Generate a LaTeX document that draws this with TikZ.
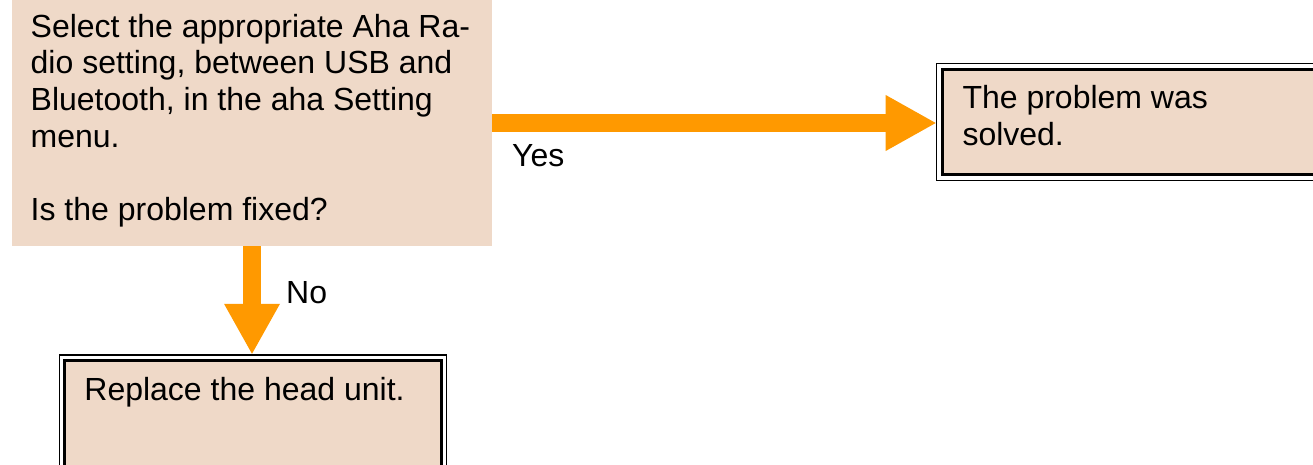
\documentclass[tikz,border=0pt]{standalone}
\usepackage{fontspec}
\setmainfont{Liberation Sans}
\usetikzlibrary{arrows.meta}
\definecolor{beige}{RGB}{239,217,200}
\definecolor{flow}{RGB}{255,153,0}
\begin{document}
\begin{tikzpicture}[x=1pt,y=-1pt,
  txt/.style={inner sep=0pt, anchor=base west, font=\fontsize{32}{36.6}\selectfont},
  plainbox/.style={fill=beige, inner sep=0pt, outer sep=0pt, anchor=north west},
  outerbox/.style={draw=black, line width=1.4pt, fill=white, inner sep=0pt, outer sep=0pt, anchor=north west},
  innerline/.style={draw=black, line width=3pt, fill=beige},
  flowarrow/.style={draw=flow, line width=17.5pt, -{Triangle[length=51pt,width=52pt]}}]
\useasboundingbox (0,0) rectangle (1313,465);
\clip (0,0) rectangle (1313,465);
% boxes
\node[plainbox, minimum width=480pt, minimum height=246pt] (q) at (12,0) {};
\node[outerbox, minimum width=403pt, minimum height=117.2pt] (solved) at (936.7,63.3) {};
\draw[innerline] ([xshift=5.8pt,yshift=-6.5pt]solved.north west) rectangle ([xshift=-5.8pt,yshift=6.3pt]solved.south east);
\node[outerbox, minimum width=387pt, minimum height=125pt] (unit) at (59.2,354.8) {};
\draw[innerline] ([xshift=5.2pt,yshift=-5.9pt]unit.north west) rectangle ([xshift=-5.2pt,yshift=5.9pt]unit.south east);
% texts
\node[txt] (qt) at (30.5,37.3) {\parbox[t]{470pt}{Select the appropriate Aha Ra-\\dio setting, between USB and\\Bluetooth, in the aha Setting\\menu.\\\mbox{}\\Is the problem fixed?}};
\node[txt] (st) at (962.3,108.5) {\parbox[t]{330pt}{The problem was\\solved.}};
\node[txt] (rt) at (84.2,400) {Replace the head unit.};
\node[txt] (yes) at (512,166.7) {Yes};
\node[txt] (no) at (286,303) {No};
% connectors
\draw[flowarrow] (q.east) -- (q.east -| solved.west);
\draw[flowarrow] (q.south) -- (q.south |- unit.north);
\end{tikzpicture}
\end{document}
